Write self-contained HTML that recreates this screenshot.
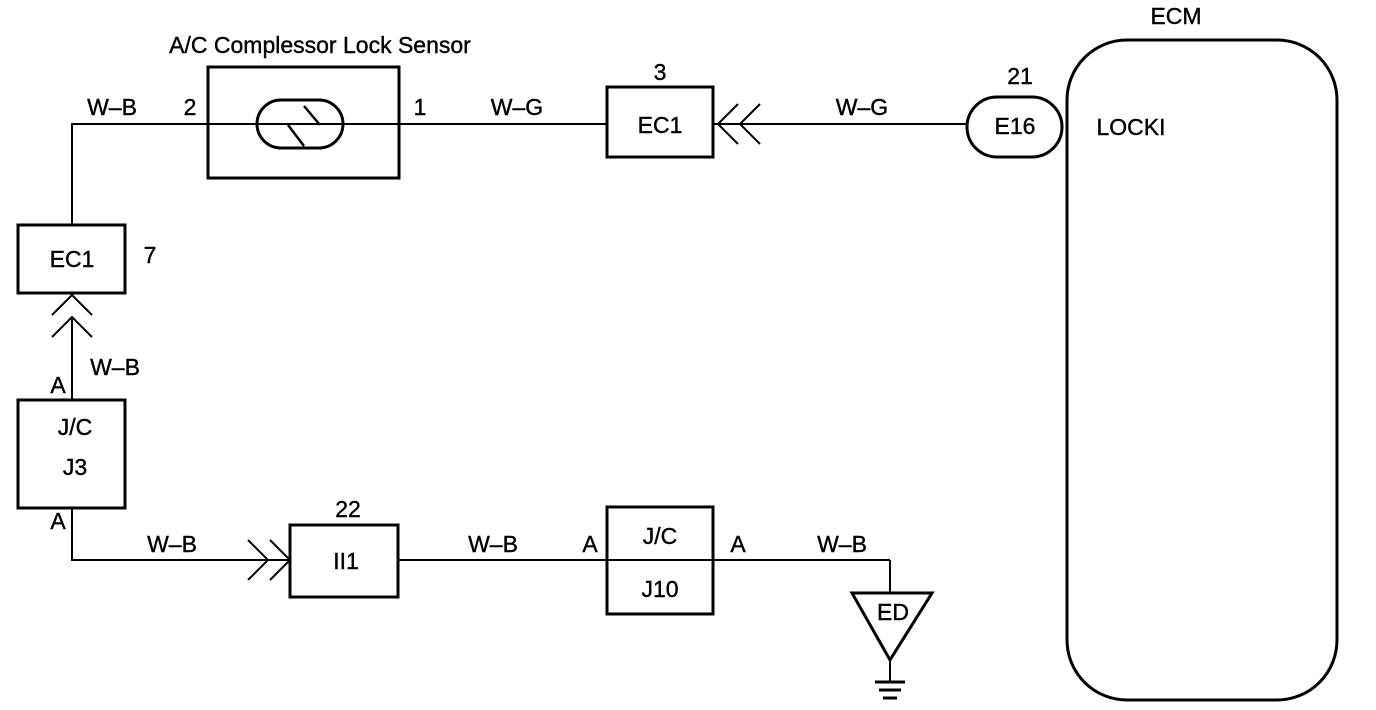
<!DOCTYPE html>
<html><head><style>
html,body{margin:0;padding:0;background:#fff;}
svg{display:block;}
text{font-family:"Liberation Sans",sans-serif;font-size:23px;fill:#000;stroke:#000;stroke-width:0.4;text-anchor:middle;}
</style></head><body>
<svg width="1376" height="710" viewBox="0 0 1376 710">
<g fill="none" stroke="#000" stroke-width="2">
<polyline points="72,225 72,124 608,124"/>
<line x1="713" y1="124" x2="967" y2="124"/>
<rect x="208" y="67" width="191" height="111" stroke-width="3"/>
<rect x="257" y="100" width="86" height="48" rx="24" stroke-width="3"/>
<polyline points="288,125 304,146" stroke-width="2.5"/>
<polyline points="304,106 320,125" stroke-width="2.5"/>
<rect x="607" y="87" width="106" height="70" stroke-width="3"/>
<polyline points="738,104 718,124 738,144"/>
<polyline points="760,104 740,124 760,144"/>
<rect x="967" y="97" width="95" height="60" rx="30" stroke-width="3"/>
<rect x="1067" y="40" width="270" height="660" rx="60" stroke-width="3"/>
<rect x="18" y="225" width="107" height="68" stroke-width="3"/>
<polyline points="52,315 72,295 92,315"/>
<polyline points="52,337 72,317 92,337"/>
<line x1="72" y1="319" x2="72" y2="400"/>
<rect x="18" y="400" width="107" height="108" stroke-width="3"/>
<polyline points="72,508 72,560 290,560"/>
<polyline points="248,540 268,560 248,580"/>
<polyline points="270,540 290,560 270,580"/>
<rect x="290" y="525" width="108" height="72" stroke-width="3"/>
<line x1="398" y1="560" x2="890" y2="560"/>
<rect x="607" y="507" width="106" height="107" stroke-width="3"/>
<line x1="890" y1="560" x2="890" y2="593"/>
<polygon points="852,593 932,593 890,660" stroke-width="3"/>
<line x1="890" y1="660" x2="890" y2="682"/>
<line x1="875" y1="682" x2="905" y2="682" stroke-width="3"/>
<line x1="879" y1="690" x2="901" y2="690" stroke-width="3"/>
<line x1="883" y1="698" x2="897" y2="698" stroke-width="3"/>
</g>
<text x="320" y="53">A/C Complessor Lock Sensor</text>
<text x="112" y="115">W–B</text>
<text x="190" y="115">2</text>
<text x="420" y="115">1</text>
<text x="517" y="115">W–G</text>
<text x="660" y="80">3</text>
<text x="660" y="133">EC1</text>
<text x="862" y="115">W–G</text>
<text x="1020" y="84">21</text>
<text x="1015" y="134">E16</text>
<text x="1176" y="24">ECM</text>
<text x="1131" y="135">LOCKI</text>
<text x="72" y="267">EC1</text>
<text x="150" y="263">7</text>
<text x="115" y="375">W–B</text>
<text x="58" y="393">A</text>
<text x="75" y="435">J/C</text>
<text x="75" y="475">J3</text>
<text x="58" y="529">A</text>
<text x="172" y="552">W–B</text>
<text x="348" y="517">22</text>
<text x="346" y="569">II1</text>
<text x="493" y="552">W–B</text>
<text x="590" y="552">A</text>
<text x="660" y="544">J/C</text>
<text x="660" y="597">J10</text>
<text x="738" y="552">A</text>
<text x="842" y="552">W–B</text>
<text x="893" y="620">ED</text>
</svg>
</body></html>
